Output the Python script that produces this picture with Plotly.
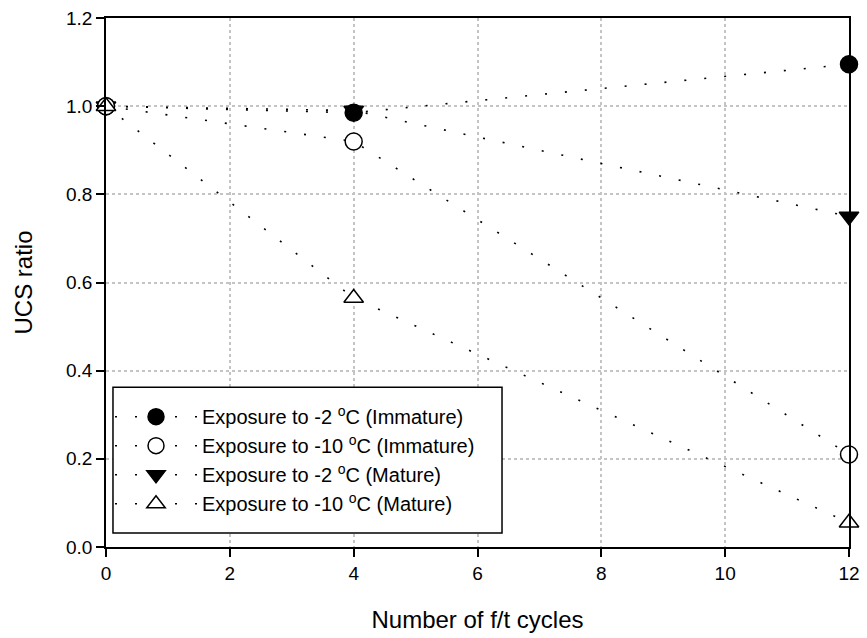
import plotly.graph_objects as go

cycles_s1 = [0, 4, 12]
ratio_s1 = [1.0, 0.985, 1.095]
cycles_s2 = [0, 4, 12]
ratio_s2 = [1.0, 0.92, 0.21]
cycles_s3 = [0, 4, 12]
ratio_s3 = [1.0, 0.99, 0.75]
cycles_s4 = [0, 4, 12]
ratio_s4 = [1.0, 0.565, 0.055]

names = [
    "Exposure to -2 <sup>o</sup>C (Immature)",
    "Exposure to -10 <sup>o</sup>C (Immature)",
    "Exposure to -2 <sup>o</sup>C (Mature)",
    "Exposure to -10 <sup>o</sup>C (Mature)",
]

x_ticks = [0, 2, 4, 6, 8, 10, 12]
y_ticks = [0.0, 0.2, 0.4, 0.6, 0.8, 1.0, 1.2]

fig = go.Figure()

line_style = dict(color="black", width=1.6, dash="2px,18px")

series = [
    (cycles_s3, ratio_s3, names[2], dict(symbol="triangle-down", size=17, color="black", line=dict(color="black", width=1.5))),
    (cycles_s1, ratio_s1, names[0], dict(symbol="circle", size=17, color="black", line=dict(color="black", width=1.5))),
    (cycles_s2, ratio_s2, names[1], dict(symbol="circle", size=17, color="white", line=dict(color="black", width=1.5))),
    (cycles_s4, ratio_s4, names[3], dict(symbol="triangle-up", size=17, color="white", line=dict(color="black", width=1.5))),
]
legend_rank = {names[0]: 1, names[1]: 2, names[2]: 3, names[3]: 4}
for xs, ys, nm, mk in series:
    fig.add_trace(go.Scatter(
        x=xs, y=ys, name=nm, mode="lines+markers",
        line=line_style, marker=mk, cliponaxis=False,
        legendrank=legend_rank[nm],
    ))

font_family = "Liberation Sans, Arial, sans-serif"

# legend frame
fig.add_shape(type="rect", xref="paper", yref="paper",
              x0=0.0094, x1=0.533, y0=0.0265, y1=0.302,
              line=dict(color="black", width=1.5), fillcolor="white", layer="above")

fig.update_layout(
    width=867, height=638,
    margin=dict(l=106, r=18, t=18, b=91, autoexpand=False),
    plot_bgcolor="white", paper_bgcolor="white",
    font=dict(family=font_family, size=19, color="black"),
    showlegend=True,
    legend=dict(
        x=0.0054, y=0.2832, xanchor="left", yanchor="top",
        borderwidth=0, bgcolor="rgba(0,0,0,0)",
        font=dict(size=20), tracegroupgap=0, itemwidth=82,
        traceorder="normal",
    ),
    xaxis=dict(
        range=[0, 12], tickvals=x_ticks, ticks="outside", ticklen=8, tickwidth=1.5,
        tickcolor="black", showline=True, linecolor="black", linewidth=1.5, mirror=True,
        showgrid=True, gridcolor="#c4c4c4", griddash="dot", gridwidth=1.5,
        zeroline=False, tickfont=dict(size=19), automargin=False,
        title=dict(text="Number of f/t cycles", font=dict(size=24), standoff=29),
    ),
    yaxis=dict(
        range=[0, 1.2], tickvals=y_ticks, tickformat=".1f", ticks="outside", ticklen=8, tickwidth=1.5,
        tickcolor="black", showline=True, linecolor="black", linewidth=1.5, mirror=True,
        showgrid=True, gridcolor="#c4c4c4", griddash="dot", gridwidth=1.5,
        zeroline=False, tickfont=dict(size=19), automargin=False,
        title=dict(text="UCS ratio", font=dict(size=24), standoff=27),
    ),
)

fig.write_html("out.html")
